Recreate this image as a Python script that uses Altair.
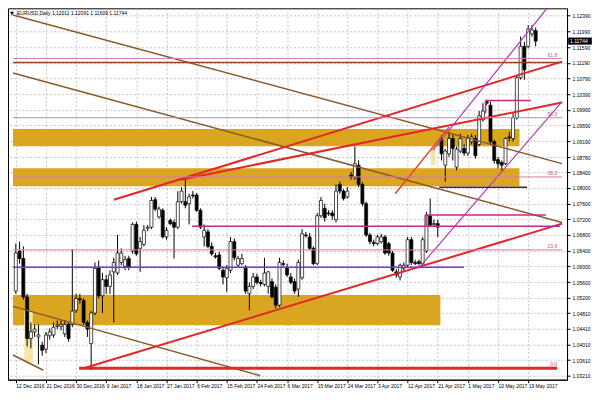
import altair as alt
import pandas as pd

# ---------------- EURUSD daily candles ----------------
opens = [1.0537, 1.0639, 1.0620, 1.0522, 1.0416, 1.0433, 1.0420, 1.0399, 1.0389, 1.0423,
         1.0425, 1.0447, 1.0447, 1.0428, 1.0452, 1.0452, 1.0488, 1.0518, 1.0513, 1.0457,
         1.0403, 1.0481, 1.0598, 1.0525, 1.0566, 1.0549, 1.0586, 1.0583, 1.0610, 1.0600,
         1.0620, 1.0639, 1.0707, 1.0646, 1.0656, 1.0697, 1.0700, 1.0770, 1.0726, 1.0743,
         1.0675, 1.0717, 1.0712, 1.0700, 1.0765, 1.0765, 1.0760, 1.0782, 1.0782, 1.0743,
         1.0675, 1.0688, 1.0651, 1.0627, 1.0629, 1.0590, 1.0571, 1.0590, 1.0663, 1.0603,
         1.0607, 1.0598, 1.0530, 1.0549, 1.0573, 1.0559, 1.0554, 1.0549, 1.0561, 1.0547,
         1.0501, 1.0607, 1.0598, 1.0573, 1.0561, 1.0542, 1.0571, 1.0680, 1.0675, 1.0646,
         1.0607, 1.0729, 1.0748, 1.0736, 1.0736, 1.0719, 1.0809, 1.0792, 1.0777, 1.0833,
         1.0828, 1.0858, 1.0809, 1.0760, 1.0680, 1.0661, 1.0658, 1.0663, 1.0675, 1.0658,
         1.0634, 1.0586, 1.0573, 1.0595, 1.0603, 1.0668, 1.0610, 1.0612, 1.0607, 1.0639,
         1.0729, 1.0707, 1.0709, 1.0923, 1.0858, 1.0887, 1.0926, 1.0853, 1.0894, 1.0901,
         1.0889, 1.0918, 1.0926, 1.0911, 1.0974, 1.1020, 1.1011, 1.0918, 1.0872, 1.0865,
         1.0862, 1.0930, 1.0926, 1.0979, 1.1081, 1.1161, 1.1161, 1.1193, 1.12011]
highs = [1.0658, 1.0663, 1.0651, 1.0530, 1.0457, 1.0452, 1.0452, 1.0408, 1.0433, 1.0442,
         1.0457, 1.0462, 1.0462, 1.0462, 1.0457, 1.0644, 1.0530, 1.0530, 1.0518, 1.0462,
         1.0486, 1.0610, 1.0615, 1.0583, 1.0578, 1.0590, 1.0622, 1.0680, 1.0646, 1.0627,
         1.0627, 1.0712, 1.0714, 1.0675, 1.0705, 1.0705, 1.0777, 1.0777, 1.0753, 1.0748,
         1.0700, 1.0722, 1.0719, 1.0792, 1.0802, 1.0821, 1.0785, 1.0792, 1.0787, 1.0748,
         1.0707, 1.0695, 1.0661, 1.0634, 1.0637, 1.0598, 1.0603, 1.0675, 1.0671, 1.0627,
         1.0632, 1.0603, 1.0559, 1.0583, 1.0581, 1.0566, 1.0622, 1.0588, 1.0569, 1.0554,
         1.0622, 1.0615, 1.0607, 1.0583, 1.0569, 1.0617, 1.0695, 1.0688, 1.0685, 1.0651,
         1.0736, 1.0777, 1.0760, 1.0743, 1.0743, 1.0809, 1.0816, 1.0797, 1.0802, 1.0841,
         1.0906, 1.0870, 1.0814, 1.0765, 1.0685, 1.0668, 1.0680, 1.0683, 1.0680, 1.0663,
         1.0639, 1.0593, 1.0607, 1.0610, 1.0675, 1.0675, 1.0617, 1.0617, 1.0675, 1.0739,
         1.0773, 1.0719, 1.0719, 1.0935, 1.0899, 1.0943, 1.0935, 1.0906, 1.0938, 1.0911,
         1.0935, 1.0938, 1.0935, 1.0996, 1.1016, 1.1025, 1.1020, 1.0923, 1.0879, 1.0870,
         1.0930, 1.0943, 1.0991, 1.1088, 1.1186, 1.1173, 1.1215, 1.1215, 1.12091]
lows = [1.0530, 1.0607, 1.0515, 1.0396, 1.0391, 1.0420, 1.0350, 1.0372, 1.0379, 1.0413,
        1.0418, 1.0440, 1.0437, 1.0420, 1.0408, 1.0445, 1.0481, 1.0505, 1.0450, 1.0420,
        1.0335, 1.0476, 1.0518, 1.0481, 1.0530, 1.0530, 1.0457, 1.0578, 1.0603, 1.0590,
        1.0590, 1.0632, 1.0627, 1.0586, 1.0651, 1.0690, 1.0695, 1.0741, 1.0722, 1.0671,
        1.0668, 1.0705, 1.0620, 1.0695, 1.0760, 1.0748, 1.0707, 1.0773, 1.0739, 1.0695,
        1.0651, 1.0646, 1.0627, 1.0620, 1.0590, 1.0554, 1.0535, 1.0583, 1.0615, 1.0598,
        1.0603, 1.0530, 1.0488, 1.0542, 1.0554, 1.0549, 1.0549, 1.0530, 1.0518, 1.0493,
        1.0496, 1.0600, 1.0573, 1.0554, 1.0530, 1.0522, 1.0566, 1.0673, 1.0641, 1.0603,
        1.0603, 1.0724, 1.0714, 1.0729, 1.0719, 1.0712, 1.0785, 1.0768, 1.0773, 1.0821,
        1.0821, 1.0802, 1.0753, 1.0675, 1.0656, 1.0651, 1.0654, 1.0658, 1.0629, 1.0627,
        1.0586, 1.0571, 1.0564, 1.0588, 1.0598, 1.0603, 1.0603, 1.0603, 1.0603, 1.0634,
        1.0700, 1.0700, 1.0675, 1.0870, 1.0816, 1.0879, 1.0870, 1.0845, 1.0889, 1.0882,
        1.0882, 1.0911, 1.0875, 1.0906, 1.0969, 1.1011, 1.0913, 1.0862, 1.0850, 1.0845,
        1.0858, 1.0918, 1.0918, 1.0974, 1.1076, 1.1076, 1.1156, 1.1186, 1.11609]
closes = [1.0634, 1.0620, 1.0522, 1.0416, 1.0433, 1.0440, 1.0425, 1.0386, 1.0425, 1.0433,
          1.0445, 1.0450, 1.0452, 1.0452, 1.0416, 1.0486, 1.0518, 1.0515, 1.0457, 1.0440,
          1.0481, 1.0595, 1.0525, 1.0566, 1.0549, 1.0578, 1.0610, 1.0634, 1.0634, 1.0617,
          1.0598, 1.0707, 1.0632, 1.0663, 1.0692, 1.0700, 1.0768, 1.0746, 1.0746, 1.0675,
          1.0692, 1.0709, 1.0700, 1.0765, 1.0792, 1.0756, 1.0777, 1.0780, 1.0743, 1.0700,
          1.0692, 1.0651, 1.0632, 1.0624, 1.0595, 1.0573, 1.0595, 1.0663, 1.0622, 1.0620,
          1.0620, 1.0537, 1.0549, 1.0573, 1.0559, 1.0556, 1.0583, 1.0586, 1.0522, 1.0501,
          1.0610, 1.0605, 1.0578, 1.0559, 1.0537, 1.0610, 1.0683, 1.0678, 1.0646, 1.0607,
          1.0729, 1.0768, 1.0724, 1.0734, 1.0729, 1.0792, 1.0792, 1.0773, 1.0792, 1.0828,
          1.0862, 1.0809, 1.0760, 1.0680, 1.0663, 1.0658, 1.0675, 1.0675, 1.0634, 1.0634,
          1.0590, 1.0578, 1.0603, 1.0603, 1.0668, 1.0610, 1.0607, 1.0607, 1.0668, 1.0731,
          1.0705, 1.0709, 1.0700, 1.0887, 1.0894, 1.0926, 1.0901, 1.0899, 1.0926, 1.0889,
          1.0926, 1.0930, 1.0882, 1.0984, 1.0996, 1.1016, 1.0918, 1.0870, 1.0862, 1.0858,
          1.0926, 1.0928, 1.0979, 1.1081, 1.1161, 1.1101, 1.1205, 1.1203, 1.11744]

date_labels = ["12 Dec 2016", "21 Dec 2016", "30 Dec 2016", "9 Jan 2017", "18 Jan 2017",
               "27 Jan 2017", "6 Feb 2017", "15 Feb 2017", "24 Feb 2017", "6 Mar 2017",
               "15 Mar 2017", "24 Mar 2017", "3 Apr 2017", "12 Apr 2017", "21 Apr 2017",
               "1 May 2017", "10 May 2017", "19 May 2017"]
date_label_bars = [0, 8, 16, 24, 32, 40, 48, 56, 64, 72, 80, 88, 96, 104, 112, 120, 128, 136]

price_ticks = [1.12390, 1.11990, 1.11590, 1.11190, 1.10790, 1.10390, 1.09990, 1.09590,
               1.09190, 1.08780, 1.08400, 1.08000, 1.07600, 1.07200, 1.06800, 1.06400,
               1.06000, 1.05600, 1.05200, 1.04810, 1.04410, 1.04010, 1.03610, 1.03210]

last_price = 1.11744
header_text = "EURUSD,Daily  1.12011 1.12091 1.11609 1.11744"

# supply / demand zones
zone_start = [-0.75, -0.75, -0.75, 2.25, 110.2]
zone_end = [133.7, 133.7, 112.7, 4.5, 111.4]
zone_top = [1.0950, 1.0850, 1.0527, 1.0486, 1.0906]
zone_bottom = [1.0906, 1.0804, 1.0450, 1.0355, 1.0858]
zone_color = ["#DAA520", "#DAA520", "#DAA520", "#F3E6A2", "#F3E6A2"]

# trend lines and horizontal levels
line_start_bar = [-0.75, -0.75, -0.75, -0.75, 18.0, 26.0, 43.8, 100.7, 106.9, 110.7,
                  16.8, -0.75, -0.75, -0.75, -0.75, -0.75, 46.8, 108.9, 108.9, 124.7,
                  124.7, -0.75, 112.4]
line_start_price = [1.1241, 1.1093, 1.0498, 1.0374, 1.0340, 1.0770, 1.0821, 1.0785, 1.0595, 1.0896,
                    1.0340, 1.1120, 1.1130, 1.0979, 1.0828, 1.0642, 1.0702, 1.0731, 1.0731, 1.1023,
                    1.1023, 1.0598, 1.0802]
line_end_bar = [145.0, 145.0, 64.9, 7.3, 145.0, 145.0, 145.0, 115.0, 145.0, 141.0,
                143.7, 145.0, 145.0, 145.0, 145.0, 145.0, 144.5, 140.7, 108.9, 136.7,
                124.7, 119.0, 135.7]
line_end_price = [1.0862, 1.0712, 1.0321, 1.0335, 1.0709, 1.1122, 1.1018, 1.0955, 1.1020, 1.1258,
                  1.0340, 1.1120, 1.1130, 1.0979, 1.0828, 1.0642, 1.0702, 1.0731, 1.0702, 1.1023,
                  1.0990, 1.0598, 1.0802]
line_color = ["#8B5A2B", "#8B5A2B", "#8B5A2B", "#8B5A2B", "#E3262B", "#E3262B", "#E3262B",
              "#E3482B", "#B03CB8", "#B03CB8", "#E3262B", "#A0402A", "#D77BA8", "#D77BA8",
              "#D77BA8", "#D77BA8", "#C0288E", "#C0288E", "#C0288E", "#C0288E", "#C0288E",
              "#8A2BE2", "#3B2F1E"]
line_width = [1.5, 1.5, 1.5, 1.5, 2, 2, 2, 1.5, 1.2, 1.2,
              3, 1.5, 1, 1, 1, 1, 1.5, 1.5, 1.5, 1.5,
              1.5, 1.5, 1.5]

fib_levels = [1.1130, 1.0979, 1.0828, 1.0642, 1.0340]
fib_names = ["61.8", "50.0", "38.2", "23.6", "0.0"]
fib_label_bar = 143.7

# ---------------- build tables ----------------
W, H = 560, 372
FONT = "Liberation Sans"

candles = pd.DataFrame({"i": list(range(len(opens))), "o": opens, "h": highs,
                        "l": lows, "c": closes})
candles["fill"] = ["#ffffff" if c >= o else "#000000" for o, c in zip(opens, closes)]

zones = pd.DataFrame({"x1": zone_start, "x2": zone_end, "y1": zone_top,
                      "y2": zone_bottom, "col": zone_color})
lines = pd.DataFrame({"x1": line_start_bar, "y1": line_start_price, "x2": line_end_bar,
                      "y2": line_end_price, "col": line_color, "w": line_width})
fibs = pd.DataFrame({"x": [fib_label_bar] * len(fib_levels), "y": fib_levels, "t": fib_names})

label_expr = "".join(f"datum.value == {b} ? '{t}' : " for b, t in zip(date_label_bars, date_labels)) + "''"

xscale = alt.Scale(domain=[-0.75, 145.0], nice=False, zero=False)
yscale = alt.Scale(domain=[1.0311, 1.1258], nice=False, zero=False)

xaxis = alt.Axis(values=date_label_bars, labelExpr=label_expr, title=None, grid=True,
                 gridDash=[2, 2], gridColor="#c4c4c4", gridWidth=1, tickSize=3,
                 tickColor="#000000", domainColor="#000000", labelFontSize=5,
                 labelFont=FONT, labelColor="#000000", labelAlign="left", labelPadding=1,
                 labelOverlap=False, labelFlush=False)
yaxis = alt.Axis(values=price_ticks, format=".5f", orient="right", title=None, grid=True,
                 gridDash=[2, 2], gridColor="#c4c4c4", gridWidth=1, tickSize=3,
                 tickColor="#000000", domainColor="#000000", labelFontSize=5,
                 labelFont=FONT, labelColor="#000000", labelPadding=2, labelOverlap=False,
                 labelFlush=False)


def X(f):
    return alt.X(f, type="quantitative", scale=xscale, axis=xaxis)


def Y(f):
    return alt.Y(f, type="quantitative", scale=yscale, axis=yaxis)


zone_layer = alt.Chart(zones).mark_rect(clip=True).encode(
    x=X("x1"), x2="x2", y=Y("y1"), y2="y2",
    fill=alt.Fill("col:N", scale=None))

wick_layer = alt.Chart(candles).mark_rule(color="#000000", strokeWidth=1).encode(
    x=X("i"), y=Y("l"), y2="h")

body_layer = alt.Chart(candles).mark_bar(size=3, stroke="#000000", strokeWidth=0.7).encode(
    x=X("i"), y=Y("o"), y2="c", fill=alt.Fill("fill:N", scale=None))

line_layer = alt.Chart(lines).mark_rule(clip=True).encode(
    x=X("x1"), x2="x2", y=Y("y1"), y2="y2",
    color=alt.Color("col:N", scale=None),
    strokeWidth=alt.StrokeWidth("w:Q", scale=None))

fib_text = alt.Chart(fibs).mark_text(align="right", baseline="bottom", dy=-1, fontSize=5,
                                     font=FONT, color="#C0508A").encode(
    x=X("x"), y=Y("y"), text="t:N")

header_tri = alt.Chart(pd.DataFrame({"t": ["\u25bc"]})).mark_text(
    align="left", baseline="middle", fontSize=5, font="DejaVu Sans", color="#000000").encode(
    x=alt.value(2), y=alt.value(5), text="t:N")
header = alt.Chart(pd.DataFrame({"t": [header_text]})).mark_text(
    align="left", baseline="middle", fontSize=5, font=FONT, color="#000000").encode(
    x=alt.value(9), y=alt.value(5), text="t:N")

price_box = alt.Chart(pd.DataFrame({"p": [last_price]})).mark_point(
    shape="M-1,-0.3L1,-0.3L1,0.3L-1,0.3Z", size=560, filled=True, opacity=1,
    color="#000000", clip=False).encode(
    x=alt.value(W + 13), y=Y("p"))
price_text = alt.Chart(pd.DataFrame({"p": [last_price], "t": [f"{last_price:.5f}"]})).mark_text(
    align="left", baseline="middle", fontSize=5, font=FONT, color="#ffffff").encode(
    x=alt.value(W + 3), y=Y("p"), text="t:N")

chart = alt.layer(zone_layer, wick_layer, body_layer, line_layer, fib_text,
                  header_tri, header, price_box, price_text).properties(
    width=W, height=H, padding={"left": 0, "top": 0, "right": 0, "bottom": 0},
    background="#ffffff"
).configure_view(stroke="#000000", strokeWidth=1)

chart.save("out.html", embed_options={"renderer": "svg", "actions": False})
